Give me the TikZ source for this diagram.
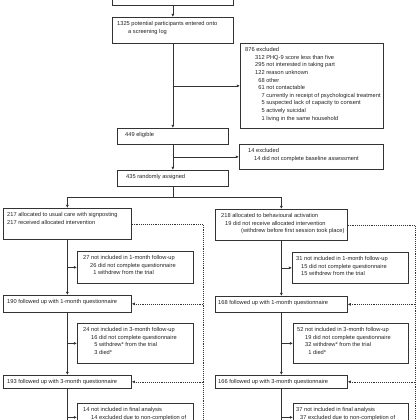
\documentclass[tikz,border=0pt]{standalone}
\usepackage{fontspec}
\setmainfont{Liberation Sans}
\usetikzlibrary{arrows.meta}
\definecolor{linec}{HTML}{333333}
\definecolor{txtc}{HTML}{222222}
\newcommand{\mybox}[5]{\node[box, minimum width={(#4-#2)*1pt}, minimum height={(#5-#3)*1pt}] (#1) at (#2,#3) {};}
\newcommand{\mytext}[4]{\node[txt] (#1) at ([xshift=#3pt, yshift=-4.3pt]#2.north west) {#4};}
\begin{document}
\begin{tikzpicture}[x=1pt,y=-1pt,
  box/.style={draw=linec, line width=0.7pt, inner sep=0pt, anchor=north west},
  txt/.style={anchor=north west, inner sep=0pt, align=left, text=txtc, font=\fontsize{5.7}{7.6}\selectfont},
  ln/.style={draw=linec, line width=0.7pt},
  arr/.style={ln, -{Latex[length=3.2pt,width=3pt]}},
  dot/.style={draw=linec, line width=0.6pt, dash pattern=on 0.7pt off 1.2pt},
  darr/.style={dot, -{Latex[length=3.2pt,width=3pt]}}]
\useasboundingbox (0,0) rectangle (420,420);
\clip (0,0) rectangle (420,420);

% boxes
\mybox{b0}{112}{-25}{233}{5}
\mybox{b1325}{112}{17}{233}{43}
\mybox{bexcl}{240}{43}{383}{128}
\mybox{b449}{117}{128}{228}{144}
\mybox{b14}{239}{144}{383}{169}
\mybox{b435}{117}{170}{228}{186}
\mybox{b217}{3}{208}{131}{239}
\mybox{b218}{215}{209}{347}{240}
\mybox{b27}{77}{251}{193}{283}
\mybox{b31}{292}{252}{408}{283}
\mybox{b190}{3}{295}{131}{312}
\mybox{b168}{215}{296}{347}{312}
\mybox{b24}{77}{323}{193}{363}
\mybox{b52}{293}{323}{408}{363}
\mybox{b193}{3}{375}{131}{388}
\mybox{b166}{215}{375}{347}{388}
\mybox{bfin}{77}{403}{193}{431}
\mybox{b37}{293}{403}{408}{431}

% texts
\mytext{t1325}{b1325}{5}{1325 potential participants entered onto\\\hspace*{11pt}a screening log}
\mytext{texcl}{bexcl}{5}{876 excluded\\
\hspace*{10pt}312 PHQ-9 score less than five\\
\hspace*{10pt}295 not interested in taking part\\
\hspace*{10pt}122 reason unknown\\
\hspace*{10pt}\hphantom{0}68 other\\
\hspace*{10pt}\hphantom{0}61 not contactable\\
\hspace*{10pt}\hphantom{00}7 currently in receipt of psychological treatment\\
\hspace*{10pt}\hphantom{00}5 suspected lack of capacity to consent\\
\hspace*{10pt}\hphantom{00}5 actively suicidal\\
\hspace*{10pt}\hphantom{00}1 living in the same household}
\mytext{t449}{b449}{8}{449 eligible}
\mytext{t14}{b14}{9}{14 excluded\\\hspace*{6pt}14 did not complete baseline assessment}
\mytext{t435}{b435}{9}{435 randomly assigned}
\mytext{t217}{b217}{4}{217 allocated to usual care with signposting\\217 received allocated intervention}
\mytext{t218}{b218}{6}{218 allocated to behavioural activation\\
\hspace*{4pt}19 did not receive allocated intervention\\
\hspace*{20pt}(withdrew before first session took place)}
\mytext{t27}{b27}{6}{27 not included in 1-month follow-up\\
\hspace*{7pt}26 did not complete questionnaire\\
\hspace*{7pt}\hphantom{0}1 withdrew from the trial}
\mytext{t31}{b31}{4}{31 not included in 1-month follow-up\\
\hspace*{5pt}15 did not complete questionnaire\\
\hspace*{5pt}15 withdrew from the trial}
\mytext{t190}{b190}{4}{190 followed up with 1-month questionnaire}
\mytext{t168}{b168}{3}{168 followed up with 1-month questionnaire}
\mytext{t24}{b24}{6}{24 not included in 3-month follow-up\\
\hspace*{8pt}16 did not complete questionnaire\\
\hspace*{8pt}\hphantom{0}5 withdrew* from the trial\\
\hspace*{8pt}\hphantom{0}3 died*}
\mytext{t52}{b52}{4}{52 not included in 3-month follow-up\\
\hspace*{8pt}19 did not complete questionnaire\\
\hspace*{8pt}32 withdrew* from the trial\\
\hspace*{8pt}\hphantom{0}1 died*}
\mytext{t193}{b193}{4}{193 followed up with 3-month questionnaire}
\mytext{t166}{b166}{3}{166 followed up with 3-month questionnaire}
\mytext{tfin}{bfin}{6}{14 not included in final analysis\\
\hspace*{8pt}14 excluded due to non-completion of}
\mytext{t37}{b37}{3}{37 not included in final analysis\\
\hspace*{4pt}37 excluded due to non-completion of}

% connectors
\draw[arr] (b0.south) -- (b1325.north);
\draw[arr] (b1325.south) -- (b449.north);
\draw[arr] (b1325.south |- bexcl.west) -- (bexcl.west);
\draw[arr] (b449.south) -- (b435.north);
\draw[arr] (b449.south |- b14.west) -- (b14.west);
\draw[ln] (b435.south) -- ++(0,11) coordinate (split);
\draw[arr] (split) -| (b217.north);
\draw[arr] (split) -| (b218.north);

\draw[arr] (b217.south) -- (b190.north);
\draw[arr] (b217.south |- b27.west) -- (b27.west);
\draw[arr] (b190.south) -- (b193.north);
\draw[arr] (b190.south |- b24.west) -- (b24.west);
\draw[ln] (b193.south) -- ++(0,60);
\draw[arr] (b193.south |- bfin.west) -- (bfin.west);

\draw[arr] (b218.south) -- (b168.north);
\draw[arr] (b218.south |- b31.west) -- (b31.west);
\draw[arr] (b168.south) -- (b166.north);
\draw[arr] (b168.south |- b52.west) -- (b52.west);
\draw[ln] (b166.south) -- ++(0,60);
\draw[arr] (b166.south |- b37.west) -- (b37.west);

% dotted withdrawal lines
\coordinate (dl) at (203,0);
\coordinate (dr) at (415,0);
\draw[dot] (b217.east) -| (203,450);
\draw[darr] (b190.east -| dl) -- (b190.east);
\draw[darr] (b193.east -| dl) -- (b193.east);
\draw[dot] (b218.east) -| (415,450);
\draw[darr] (b168.east -| dr) -- (b168.east);
\draw[darr] (b166.east -| dr) -- (b166.east);
\end{tikzpicture}
\end{document}
